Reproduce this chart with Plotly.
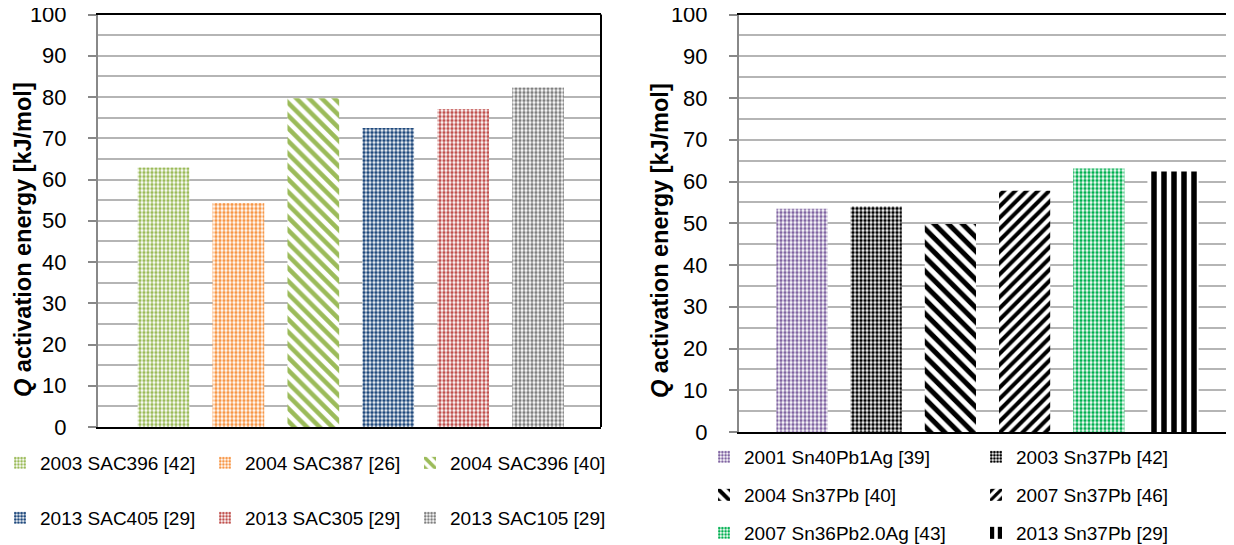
import plotly.graph_objects as go

# ---- data ----
left_labels = ["2003 SAC396 [42]", "2004 SAC387 [26]", "2004 SAC396 [40]",
               "2013 SAC405 [29]", "2013 SAC305 [29]", "2013 SAC105 [29]"]
left_values = [62.9, 54.3, 79.7, 72.5, 77.1, 82.3]

right_labels = ["2001 Sn40Pb1Ag [39]", "2003 Sn37Pb [42]", "2004 Sn37Pb [40]",
                "2007 Sn37Pb [46]", "2007 Sn36Pb2.0Ag [43]", "2013 Sn37Pb [29]"]
right_values = [53.5, 54.0, 49.8, 57.8, 63.1, 62.4]

y_ticks = [0, 10, 20, 30, 40, 50, 60, 70, 80, 90, 100]

# ---- styles ----
left_styles = [
    dict(color="#9BBB59", shape=".", size=4, sol=0.55),
    dict(color="#F79646", shape=".", size=4, sol=0.55),
    dict(color="#9BBB59", shape="\\", size=9, sol=0.5),
    dict(color="#1F497D", shape=".", size=4, sol=0.65),
    dict(color="#C0504D", shape=".", size=4, sol=0.55),
    dict(color="#7F7F7F", shape=".", size=4, sol=0.55),
]
right_styles = [
    dict(color="#8064A2", shape=".", size=4, sol=0.55),
    dict(color="#000000", shape=".", size=4, sol=0.6),
    dict(color="#000000", shape="\\", size=10, sol=0.5),
    dict(color="#000000", shape="/", size=8, sol=0.5),
    dict(color="#00B050", shape=".", size=4, sol=0.55),
    dict(color="#000000", shape="|", size=10, sol=0.55),
]

# page body margin offset (browser default) compensation
OFF = 8
W, H = 1234 - OFF, 545 - OFF
FONT = "Liberation Sans"


def px_x(px):
    return (px - OFF) / W


def px_y(py):
    return 1 - (py - OFF) / H


# legend anchor positions (reference px): text start x, row center y
left_leg_pos = [(35, 463), (240, 463), (445, 463), (35, 518), (240, 518), (445, 518)]
right_leg_pos = [(739, 457), (1011, 457), (739, 495), (1011, 495), (739, 533), (1011, 533)]

fig = go.Figure()

legend_layouts = {}
n = 0
for labels, values, styles, xa, ya, pos in [
    (left_labels, left_values, left_styles, "x", "y", left_leg_pos),
    (right_labels, right_values, right_styles, "x2", "y2", right_leg_pos),
]:
    for i, (lab, val, st) in enumerate(zip(labels, values, styles)):
        n += 1
        lname = "legend" if n == 1 else f"legend{n}"
        fig.add_trace(go.Bar(
            x=[i + 1], y=[val], name=lab, width=0.69,
            xaxis=xa, yaxis=ya, legend=lname, showlegend=True,
            marker=dict(
                color="white",
                line=dict(width=0),
                pattern=dict(shape=st["shape"], fgcolor=st["color"], bgcolor="white",
                             size=st["size"], solidity=st["sol"], fillmode="replace"),
            ),
        ))
        tx, ty = pos[i]
        legend_layouts[lname] = dict(
            x=px_x(tx - 35), y=px_y(ty), xanchor="left", yanchor="middle",
            xref="paper", yref="paper",
            bgcolor="rgba(0,0,0,0)", borderwidth=0,
            font=dict(family=FONT, size=19, color="black"),
        )

axis_y_common = dict(
    range=[0, 100], tickvals=y_ticks, ticks="outside", ticklen=8, tickwidth=1.5,
    tickcolor="#888888", showline=True, linecolor="#888888", linewidth=2,
    showgrid=True, gridcolor="#B5B5B5", gridwidth=2, zeroline=False,
    minor=dict(dtick=5, showgrid=True, gridcolor="#B5B5B5", gridwidth=2, ticks=""),
    tickfont=dict(family=FONT, size=22, color="black"), ticklabelstandoff=17,
    ticklabeloverflow="allow",
    fixedrange=True, automargin=False,
)
axis_x_common = dict(
    showticklabels=False, showgrid=False, zeroline=False, ticks="",
    showline=True, linecolor="black", linewidth=2, mirror=True, fixedrange=True,
    automargin=False,
)

fig.update_layout(
    width=W, height=H,
    showlegend=True,
    margin=dict(l=0, r=0, t=0, b=0, autoexpand=False),
    paper_bgcolor="white", plot_bgcolor="white",
    barmode="overlay",
    font=dict(family=FONT, color="black"),
    xaxis=dict(domain=[px_x(98), px_x(601)], range=[0.126, 6.84], anchor="y", **axis_x_common),
    yaxis=dict(domain=[px_y(427), px_y(14.5)], anchor="x", **axis_y_common),
    xaxis2=dict(domain=[px_x(739), px_x(1232)], range=[0.151, 6.795], anchor="y2", **axis_x_common),
    yaxis2=dict(domain=[px_y(432), px_y(14.5)], anchor="x2", **axis_y_common),
    **legend_layouts,
)

# right borders (black)
for xr, yr in [("x domain", "y domain"), ("x2 domain", "y2 domain")]:
    fig.add_shape(type="line", xref=xr, yref=yr, x0=1, x1=1, y0=0, y1=1,
                  line=dict(color="black", width=2), layer="above")

# y-axis titles
title_text = "<b><i>Q</i> activation energy [kJ/mol]</b>"
for xpx in [23, 660]:
    fig.add_annotation(text=title_text, x=px_x(xpx), y=px_y(240), xref="paper", yref="paper",
                       textangle=-90, showarrow=False, xanchor="center", yanchor="middle",
                       borderpad=0,
                       font=dict(family=FONT, size=23.5, color="black"))

fig.write_html("out.html")
